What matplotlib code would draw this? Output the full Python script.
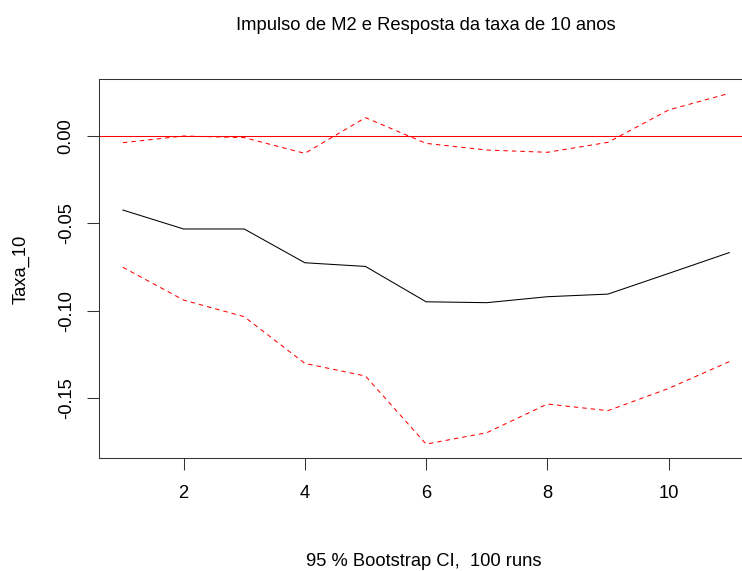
import matplotlib
matplotlib.use("Agg")
import matplotlib.pyplot as plt

plt.rcParams['font.family'] = ['Liberation Sans', 'DejaVu Sans']
plt.rcParams['lines.scale_dashes'] = False

# impulse response of Taxa_10 to an M2 shock, with bootstrap bands
horizon = [1, 2, 3, 4, 5, 6, 7, 8, 9, 10, 11]
irf = [-0.0425, -0.0533, -0.0533, -0.0726, -0.0747, -0.0949, -0.0954, -0.0920, -0.0905, -0.0787, -0.0668]
upper = [-0.0040, -0.0002, -0.0011, -0.0101, 0.0103, -0.0044, -0.0082, -0.0095, -0.0038, 0.0147, 0.0242]
lower = [-0.0752, -0.0939, -0.1034, -0.1301, -0.1373, -0.1762, -0.1697, -0.1533, -0.1571, -0.1444, -0.1291]

xticks = [2, 4, 6, 8, 10]
yticks = [0.0, -0.05, -0.10, -0.15]
ytick_labels = ["0.00", "-0.05", "-0.10", "-0.15"]

fs = 13.2

fig = plt.figure(figsize=(7.42, 5.71), dpi=100)
ax = fig.add_axes([0.1330, 0.1974, 0.8825, 0.6637])

ax.plot(horizon, irf, color='black', lw=0.75)
ax.plot(horizon, upper, color='red', lw=0.75, dashes=(3.2, 2.9))
ax.plot(horizon, lower, color='red', lw=0.75, dashes=(3.2, 2.9))
ax.axhline(0, color='red', lw=0.75)

ax.set_xlim(0.6, 11.4)
ax.set_ylim(-0.1843, 0.0322)
ax.set_xticks(xticks)
ax.set_xticklabels([str(t) for t in xticks])
ax.set_yticks(yticks)
ax.set_yticklabels(ytick_labels)

ax.tick_params(axis='both', length=8.6, width=0.75, labelsize=fs, color='#333333')
ax.tick_params(axis='x', pad=10.6)
ax.tick_params(axis='y', pad=8.7, labelrotation=90)
for lab in ax.get_yticklabels():
    lab.set_va('center')
for sp in ax.spines.values():
    sp.set_color('#333333')
    sp.set_linewidth(0.75)

fig.text(0.5735, 1 - 30 / 571, "Impulso de M2 e Resposta da taxa de 10 anos",
         ha='center', va='baseline', fontsize=fs)
fig.text(0.5714, 1 - 566.5 / 571, "95 % Bootstrap CI,  100 runs",
         ha='center', va='baseline', fontsize=fs)
fig.text(25.5 / 742, 1 - 269 / 571, "Taxa_10", rotation=90, rotation_mode='anchor',
         ha='center', va='baseline', fontsize=fs)

fig.savefig("out.png", dpi=100)
